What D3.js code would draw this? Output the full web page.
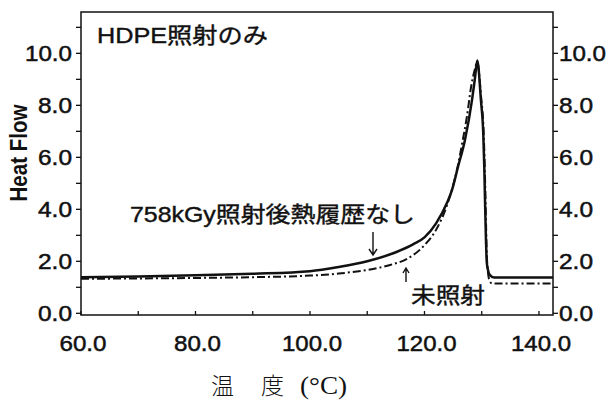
<!DOCTYPE html>
<html>
<head>
<meta charset="UTF-8">
<style>
  body { margin: 0; background: #fff; }
  text { font-family: "Liberation Sans", Arial, "Noto Sans CJK JP", sans-serif; fill: #111; }
  .tick-label { font-size: 22px; stroke: #111; stroke-width: 0.5; }
</style>
</head>
<body>
<svg width="608" height="400"></svg>
<script src="https://d3js.org/d3.v7.min.js"></script>
<script>

// temperatures (°C) and heat flow
let irradTemp = [60, 70, 80, 90, 100, 105, 110, 115, 118, 120, 122, 124, 124.8, 125.85, 127.07, 128.3, 128.82, 129.22,
                 129.87, 130.27, 130.45, 130.57, 130.74, 130.88, 131.09, 131.44, 132.14, 142.45];
let irradFlow = [1.39, 1.42, 1.46, 1.52, 1.62, 1.78, 2.0, 2.35, 2.65, 2.92, 3.45, 4.28, 4.74, 5.63, 6.67, 8.2, 9.05, 9.72,
                 8.17, 6.9, 5.6, 4.36, 2.82, 1.97, 1.67, 1.47, 1.38, 1.38];

let rawTemp = [60, 70, 80, 90, 100, 105, 110, 114, 117, 120, 122, 124, 125.85, 126.6, 127.4, 128.25, 128.7, 129.2,
               129.9, 130.35, 130.6, 130.75, 130.85, 131.0, 131.3, 131.8, 142.45];
let rawFlow = [1.33, 1.34, 1.36, 1.39, 1.45, 1.53, 1.67, 1.86, 2.1, 2.62, 3.2, 4.2, 5.7, 6.56, 7.55, 8.85, 9.3, 9.65,
               8.3, 6.9, 5.0, 3.5, 2.5, 1.8, 1.3, 1.15, 1.15];

let xTicks = [60, 80, 100, 120, 140];
let yTicks = [0, 2, 4, 6, 8, 10];

let svg = d3.select("svg");
let plotL = 81, plotR = 553, plotT = 12, plotB = 315;

let x = d3.scaleLinear().domain([60, 142.45]).range([plotL, plotR]);
let y = d3.scaleLinear().domain([-0.065, 11.59]).range([plotB, plotT]);

// frame
svg.append("rect")
    .attr("x", plotL).attr("y", plotT)
    .attr("width", plotR - plotL).attr("height", plotB - plotT)
    .attr("fill", "none").attr("stroke", "#111").attr("stroke-width", 1.5);

// y ticks every 1, labels every 2 (both sides)
let yAll = d3.range(0, 12, 1);
svg.append("g").selectAll("line").data(yAll).enter().append("line")
    .attr("x1", plotL - 5).attr("x2", plotL)
    .attr("y1", d => y(d)).attr("y2", d => y(d))
    .attr("stroke", "#111").attr("stroke-width", 1.3);
svg.append("g").selectAll("line").data(yAll).enter().append("line")
    .attr("x1", plotR).attr("x2", plotR + 5)
    .attr("y1", d => y(d)).attr("y2", d => y(d))
    .attr("stroke", "#111").attr("stroke-width", 1.3);

let fmt = d3.format(".1f");
let labLen = s => (s.length - 1) * 13 + 8;

svg.append("g").selectAll("text").data(yTicks).enter().append("text")
    .attr("class", "tick-label")
    .attr("x", 72).attr("y", d => y(d) + 8)
    .attr("text-anchor", "end")
    .attr("textLength", d => labLen(fmt(d)))
    .attr("lengthAdjust", "spacingAndGlyphs")
    .text(d => fmt(d));
svg.append("g").selectAll("text").data(yTicks).enter().append("text")
    .attr("class", "tick-label")
    .attr("x", 559).attr("y", d => y(d) + 8)
    .attr("textLength", d => labLen(fmt(d)))
    .attr("lengthAdjust", "spacingAndGlyphs")
    .text(d => fmt(d));

// x ticks every 10, pointing inward
svg.append("g").selectAll("line").data(d3.range(60, 141, 10)).enter().append("line")
    .attr("x1", d => x(d)).attr("x2", d => x(d))
    .attr("y1", plotB).attr("y2", plotB - 4)
    .attr("stroke", "#111").attr("stroke-width", 1.3);
svg.append("g").selectAll("text").data(xTicks).enter().append("text")
    .attr("class", "tick-label")
    .attr("x", d => x(d) + 2).attr("y", 351)
    .attr("text-anchor", "middle")
    .attr("textLength", d => labLen(fmt(d)))
    .attr("lengthAdjust", "spacingAndGlyphs")
    .text(d => fmt(d));

// axis titles
svg.append("text")
    .attr("transform", "translate(27,153) rotate(-90)")
    .attr("text-anchor", "middle")
    .attr("font-size", 23).attr("font-weight", "bold")
    .attr("textLength", 97).attr("lengthAdjust", "spacingAndGlyphs")
    .text("Heat Flow");

svg.append("text").attr("x", 211).attr("y", 394)
    .style("font-family", "'Noto Sans CJK JP'").attr("font-size", 23).attr("font-weight", 300)
    .text("温");
svg.append("text").attr("x", 261).attr("y", 394)
    .style("font-family", "'Noto Sans CJK JP'").attr("font-size", 23).attr("font-weight", 300)
    .text("度");
svg.append("text").attr("x", 300).attr("y", 394)
    .style("font-family", "'Liberation Serif', serif").attr("font-size", 25)
    .attr("textLength", 47).attr("lengthAdjust", "spacingAndGlyphs")
    .text("(°C)");

// curves
let line = d3.line()
    .x(d => x(d[0])).y(d => y(d[1]))
    .curve(d3.curveMonotoneX);

svg.append("path")
    .attr("d", line(d3.zip(rawTemp, rawFlow)))
    .attr("fill", "none").attr("stroke", "#111")
    .attr("stroke-width", 2).attr("stroke-dasharray", "8,3,2,3");

svg.append("path")
    .attr("d", line(d3.zip(irradTemp, irradFlow)))
    .attr("fill", "none").attr("stroke", "#111")
    .attr("stroke-width", 2.5).attr("stroke-linejoin", "round");

// labels
svg.append("text").attr("x", 97).attr("y", 43)
    .attr("font-size", 22).style("stroke", "#111").style("stroke-width", 0.4)
    .attr("textLength", 171).attr("lengthAdjust", "spacingAndGlyphs")
    .text("HDPE照射のみ");

svg.append("text").attr("x", 130).attr("y", 222)
    .attr("font-size", 22).style("stroke", "#111").style("stroke-width", 0.4)
    .attr("textLength", 285).attr("lengthAdjust", "spacingAndGlyphs")
    .text("758kGy照射後熱履歴なし");

svg.append("text").attr("x", 411).attr("y", 303)
    .attr("font-size", 22).style("stroke", "#111").style("stroke-width", 0.4)
    .attr("textLength", 74).attr("lengthAdjust", "spacingAndGlyphs")
    .text("未照射");

// arrows
svg.append("path")
    .attr("d", "M373,232 L373,255 M369,249 L373,255 L377,249")
    .attr("fill", "none").attr("stroke", "#111").attr("stroke-width", 1.4);
svg.append("path")
    .attr("d", "M406,282 L406,268 M403,273 L406,268 L409,273")
    .attr("fill", "none").attr("stroke", "#111").attr("stroke-width", 1.4);

</script>
</body>
</html>
